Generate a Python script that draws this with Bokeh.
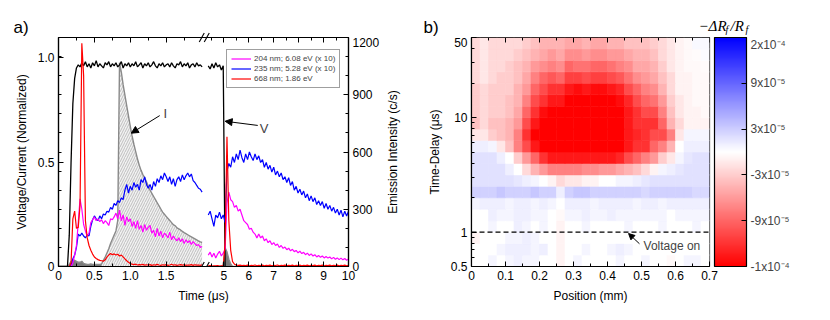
import numpy as np
from bokeh.plotting import figure
from bokeh.models import (Range1d, LinearAxis, FixedTicker, Legend, LegendItem, Label,
                          Arrow, NormalHead, LinearColorMapper, ColorBar, Span, ColumnDataSource)
from bokeh.layouts import row, column
from bokeh.embed import file_html
from bokeh.resources import INLINE
from bokeh.transform import transform
from bokeh.core.properties import value

FONT = "Liberation Sans"

# ================= Panel a) data =================
t_left = np.round(np.arange(81) * 0.025, 3)            # 0 .. 2.0 us
t_right = np.round(4.375 + np.arange(76) * 0.075, 3)   # 4.375 .. 10 us

voltage_left = [0, 0, 0, 0, 0, 0, 0.15, 0.5, 0.78, 0.9,
                0.95, 0.965, 0.955, 0.975, 0.96, 0.98, 0.955, 0.97, 0.95, 0.975,
                0.96, 0.985, 0.955, 0.97, 0.96, 0.95, 0.975, 0.965, 0.98, 0.955,
                0.97, 0.96, 0.975, 0.955, 0.965, 0.98, 0.95, 0.97, 0.96, 0.975,
                0.955, 0.97, 0.96, 0.98, 0.955, 0.965, 0.975, 0.95, 0.97, 0.96,
                0.975, 0.955, 0.965, 0.98, 0.96, 0.95, 0.97, 0.96, 0.975, 0.955,
                0.965, 0.97, 0.955, 0.975, 0.96, 0.95, 0.97, 0.965, 0.98, 0.955,
                0.97, 0.96, 0.975, 0.95, 0.965, 0.97, 0.955, 0.975, 0.96, 0.965,
                0.955]
voltage_right = [0.96, 0.945, 0.97, 0.95, 0.975, 0.955, 0.965, 0.94, 0.96, 0.0]

current_left = [0, 0, 0, 0, 0, 0, 0.01, 0.025, 0.03, 0.03,
                0.025, 0.02, 0.02, 0.025, 0.015, 0.012, 0.01, 0.01, 0.012, 0.01,
                0.01, 0.01, 0.01, 0.01, 0.012, 0.03, 0.045, 0.065, 0.085, 0.11,
                0.13, 0.15, 0.17, 0.22, 0.975, 0.93, 0.87, 0.82, 0.77, 0.72,
                0.67, 0.625, 0.585, 0.55, 0.515, 0.485, 0.46, 0.44, 0.425, 0.405,
                0.385, 0.365, 0.35, 0.335, 0.32, 0.305, 0.29, 0.275, 0.26, 0.25,
                0.24, 0.23, 0.22, 0.21, 0.2, 0.195, 0.185, 0.18, 0.175, 0.168,
                0.162, 0.157, 0.152, 0.147, 0.142, 0.137, 0.132, 0.127, 0.122, 0.118,
                0.115]
current_right = [0, 0, 0, 0, 0, 0, 0, 0, 0.005, 0.09, 0.07, 0.035, 0.012, 0, 0, 0]

red_left = [0, 0, 0, 0, 0, 0, 0, 20, 250, 290,
            200, 205, 320, 1170, 1000, 240, 150, 110, 85, 65,
            50, 42, 36, 32, 30, 28, 35, 50, 60, 68,
            62, 66, 60, 64, 55, 60, 50, 40, 30, 22,
            16, 12, 10, 12, 8, 10, 9, 11, 7, 9,
            8, 10, 6, 9, 7, 11, 8, 6, 9, 7,
            10, 6, 8, 12, 7, 9, 6, 8, 10, 7,
            9, 6, 8, 7, 10, 6, 9, 7, 8, 6,
            9]
red_right = [3, 5, 2, 4, 3, 5, 2, 4, 3, 120,
             680, 240, 85, 25, 12, 8, 6, 7, 5, 6,
             5, 7, 4, 6, 5, 8, 4, 6, 5, 7,
             4, 6, 5, 7, 4, 6, 5, 8, 4, 6,
             5, 7, 4, 6, 5, 7, 4, 6, 5, 7,
             4, 6, 5, 7, 4, 6, 5, 7, 4, 6,
             5, 7, 4, 6, 5, 7, 4, 6, 5, 7,
             4, 6, 5, 7, 4, 6]

blue_left = [0, 0, 0, 0, 0, 0, 0, 5, 40, 60,
             100, 170, 160, 175, 160, 150, 165, 160, 210, 245,
             265, 250, 240, 265, 250, 275, 270, 290, 285, 310,
             300, 330, 320, 345, 335, 360, 350, 400, 430, 385,
             420, 400, 440, 415, 430, 400, 455, 440, 470, 430,
             410, 430, 400, 445, 420, 460, 440, 475, 455, 490,
             470, 445, 470, 430, 460, 420, 455, 470, 445, 480,
             455, 475, 490, 470, 485, 450, 440, 425, 410, 405,
             390]
blue_right = [270, 290, 250, 210, 270, 255, 285, 250, 270, 230,
              500, 540, 520, 575, 545, 590, 560, 610, 570, 545,
              590, 560, 600, 575, 555, 590, 560, 580, 545, 560,
              520, 545, 510, 530, 495, 520, 480, 500, 470, 490,
              455, 470, 440, 465, 425, 445, 400, 420, 385, 405,
              375, 395, 360, 380, 345, 370, 340, 360, 325, 345,
              320, 340, 305, 330, 300, 320, 290, 310, 280, 300,
              270, 295, 260, 290, 265, 290]

magenta_left = [0, 0, 0, 0, 0, 0, 0, 0, 20, 60,
                110, 230, 355, 300, 220, 185, 160, 175, 230, 245,
                260, 240, 250, 235, 245, 225, 240, 230, 215, 250,
                245, 260, 280, 250, 295, 240, 270, 215, 260, 235,
                250, 210, 235, 200, 240, 195, 215, 180, 220, 190,
                205, 215, 175, 190, 155, 200, 160, 185, 150, 175,
                165, 150, 180, 140, 160, 145, 135, 150, 130, 145,
                120, 140, 125, 135, 115, 130, 120, 110, 115, 100,
                105]
magenta_right = [60, 75, 50, 70, 45, 65, 80, 55, 70, 90,
                 330, 390, 350, 340, 310, 320, 290, 300, 270, 240,
                 230, 220, 195, 200, 180, 170, 150, 170, 150, 160,
                 135, 145, 125, 135, 115, 125, 110, 118, 100, 110,
                 95, 102, 88, 96, 82, 90, 78, 84, 72, 80,
                 68, 74, 62, 70, 58, 66, 55, 62, 50, 58,
                 48, 55, 45, 52, 44, 50, 40, 48, 38, 45,
                 36, 44, 35, 42, 33, 40]

legend_labels = ["204 nm; 6.08 eV (x 10)", "235 nm; 5.28 eV (x 10)", "668 nm; 1.86 eV"]
x_major_t = [0, 0.5, 1.0, 1.5, 5, 6, 7, 8, 9, 10]
x_major_labels = ["0", "0.5", "1.0", "1.5", "5", "6", "7", "8", "9", "10"]
x_minor_t = [0.25, 0.75, 1.25, 1.75, 4.5, 5.5, 6.5, 7.5, 8.5, 9.5]
counts_ticks = [0, 300, 600, 900, 1200]
norm_ticks = [0, 0.5, 1.0]
norm_labels = ["0", "0.5", "1.0"]

# broken time axis
T_LEFT_END = 2.0
T_RIGHT_START = 4.3
GAP = 0.06
RIGHT_SCALE = 25 / 72.0
COUNT_TOP = 1200
NORM_TOP = 229 / 209.0   # normalized value at the 1200 c/s level

# layout (px)
HEAD_H = 37
FRAME_H = 229
BOTTOM_B = 42
P1_LEFT, P1_FRAME_W, P1_RIGHT = 58, 290, 37
SIDE_W = 29
P2_LEFT, P2_FRAME_W, P2_RIGHT = 57, 238, 105
P1_W = P1_LEFT + P1_FRAME_W + P1_RIGHT
P2_W = P2_LEFT + P2_FRAME_W + P2_RIGHT
TOTAL_W = P1_W + SIDE_W + P2_W


def disp(t):
    t = np.asarray(t, dtype=float)
    return np.where(t <= T_LEFT_END, t, T_LEFT_END + GAP + (t - T_RIGHT_START) * RIGHT_SCALE)


def joined(vl, vr):
    x = np.concatenate([disp(t_left[:len(vl)]), [np.nan], disp(t_right[:len(vr)])])
    y = np.concatenate([np.asarray(vl, float), [np.nan], np.asarray(vr, float)])
    return x, y


X_MAX = float(disp(10.0))
X_BREAK = T_LEFT_END + GAP / 2
PX_X = X_MAX / P1_FRAME_W        # data units per pixel (x)
PX_Y = NORM_TOP / FRAME_H        # data units per pixel (y)


def style_axis(ax, show_labels=True):
    ax.axis_line_width = 1.2
    ax.axis_line_color = "black"
    ax.major_tick_in = 5
    ax.major_tick_out = 0
    ax.minor_tick_in = 3
    ax.minor_tick_out = 0
    ax.major_tick_line_color = "black"
    ax.minor_tick_line_color = "black"
    ax.major_label_text_font = FONT
    ax.major_label_text_font_size = "12px"
    ax.major_label_text_color = "black"
    ax.major_label_standoff = 4 if show_labels else 0
    ax.axis_label_text_font = FONT
    ax.axis_label_text_font_size = "12px"
    ax.axis_label_text_font_style = "normal"
    ax.axis_label_text_color = "black"
    ax.axis_label_standoff = 6


def bare(width, height, xr, yr, bottom=0):
    h = figure(width=width, height=height, x_range=Range1d(*xr), y_range=Range1d(*yr),
               output_backend="svg", toolbar_location=None,
               min_border_left=0, min_border_right=0, min_border_top=0, min_border_bottom=bottom,
               x_axis_location=None, y_axis_location=None)
    h.outline_line_color = None
    h.grid.visible = False
    return h


def put_text(h, x, y, txt, size, font=FONT, style="normal", align="left", baseline="alphabetic", angle=0.0):
    h.text(x=[x], y=[y], text=[txt], text_font=value(font), text_font_size=value(size),
           text_font_style=style, text_align=align, text_baseline=baseline, text_color="black",
           angle=angle)


p1 = figure(width=P1_W, height=FRAME_H + BOTTOM_B, x_range=Range1d(0, X_MAX), y_range=Range1d(0, NORM_TOP),
            output_backend="svg", toolbar_location=None,
            min_border_left=P1_LEFT, min_border_right=P1_RIGHT, min_border_top=0, min_border_bottom=BOTTOM_B)
p1.extra_y_ranges = {"counts": Range1d(0, COUNT_TOP)}
p1.grid.visible = False
p1.outline_line_color = "black"
p1.outline_line_width = 1.2

# current (hatched area + line)
xl = disp(t_left)
p1.varea(x=xl, y1=np.zeros(len(xl)), y2=current_left, fill_color="#f2f2f2",
         hatch_pattern="/", hatch_color="#a8a8a8", hatch_scale=5, hatch_weight=0.7)
early = t_left <= 0.6
p1.varea(x=xl[early], y1=np.zeros(int(early.sum())), y2=np.asarray(current_left)[early],
         fill_color="#7a7a7a")
xr_c = disp(t_right[:len(current_right)])
p1.varea(x=xr_c, y1=np.zeros(len(xr_c)), y2=current_right, fill_color="#7a7a7a")
cx, cy = joined(current_left, current_right)
p1.line(cx, cy, line_color="#8a8a8a", line_width=1.4)

vx, vy = joined(voltage_left, voltage_right)
p1.line(vx, vy, line_color="black", line_width=1.3)

bx, by = joined(blue_left, blue_right)
r_blue = p1.line(bx, by, line_color="#0000ff", line_width=1.2, y_range_name="counts")
mx, my = joined(magenta_left, magenta_right)
r_mag = p1.line(mx, my, line_color="#ff00ff", line_width=1.2, y_range_name="counts")
rx, ry = joined(red_left, red_right)
r_red = p1.line(rx, ry, line_color="#ff0000", line_width=1.2, y_range_name="counts")

# axis-break slashes (lower half at top edge, upper half at bottom edge)
for yc in (NORM_TOP, 0.0):
    for off in (-2.5, 2.5):
        p1.segment(x0=[X_BREAK + (off - 2.5) * PX_X], y0=[yc - 4.5 * PX_Y],
                   x1=[X_BREAK + (off + 2.5) * PX_X], y1=[yc + 4.5 * PX_Y],
                   line_color="black", line_width=1.1)

# axes
xt = FixedTicker(ticks=[float(v) for v in disp(x_major_t)],
                 minor_ticks=[float(v) for v in disp(x_minor_t)])
ax_b = p1.xaxis[0]
ax_b.ticker = xt
ax_b.major_label_overrides = {float(d): lab for d, lab in zip(disp(x_major_t), x_major_labels)}
ax_b.axis_label = "Time (\u03bcs)"
style_axis(ax_b)

ax_t = LinearAxis(ticker=xt, fixed_location=NORM_TOP,
                  major_label_overrides={float(d): "" for d in disp(x_major_t)})
style_axis(ax_t, show_labels=False)
p1.add_layout(ax_t, "above")

left_minor = [c * NORM_TOP / COUNT_TOP for c in range(100, 1200, 100)]
ax_l = p1.yaxis[0]
ax_l.ticker = FixedTicker(ticks=norm_ticks, minor_ticks=left_minor)
ax_l.major_label_overrides = {float(v): lab for v, lab in zip(norm_ticks, norm_labels)}
ax_l.axis_label = "Voltage/Current (Normalized)"
style_axis(ax_l)

ax_r = LinearAxis(y_range_name="counts",
                  ticker=FixedTicker(ticks=counts_ticks, minor_ticks=list(range(100, 1200, 100))))
style_axis(ax_r)
p1.add_layout(ax_r, "right")

# legend
legend = Legend(items=[LegendItem(label=legend_labels[0], renderers=[r_mag]),
                       LegendItem(label=legend_labels[1], renderers=[r_blue]),
                       LegendItem(label=legend_labels[2], renderers=[r_red])],
                location=(168, 178), label_text_font=FONT, label_text_font_size="8px",
                glyph_width=20, glyph_height=9, label_height=9, spacing=1, padding=4,
                margin=0, label_standoff=3, border_line_color="#404040", border_line_width=1.5,
                background_fill_color="white", background_fill_alpha=1)
p1.add_layout(legend)

# annotations
p1.add_layout(Arrow(end=NormalHead(size=7, fill_color="black", line_color="black"),
                    x_start=float(disp(1.41)), y_start=0.722, x_end=float(disp(1.014)), y_end=0.638,
                    line_width=1))
p1.add_layout(Label(x=float(disp(1.486)), y=0.731, text="I", text_font=FONT, text_font_size="13px",
                    text_align="center", text_baseline="middle"))
p1.add_layout(Arrow(end=NormalHead(size=7, fill_color="black", line_color="black"),
                    x_start=float(disp(6.36)), y_start=0.675, x_end=float(disp(5.05)), y_end=0.695,
                    line_width=1))
p1.add_layout(Label(x=float(disp(6.61)), y=0.662, text="V", text_font=FONT, text_font_size="13px",
                    text_align="center", text_baseline="middle"))

# right-axis title strip
side1 = bare(SIDE_W, FRAME_H + BOTTOM_B, (0, SIDE_W), (0, FRAME_H), bottom=BOTTOM_B)
put_text(side1, 7, FRAME_H / 2, "Emission Intensity (c/s)", "12px", align="center",
         baseline="middle", angle=float(np.pi / 2))

# ================= Panel b) data =================
pos_edges = np.round(np.arange(29) * 0.025, 4)           # 0 .. 0.7 mm, 28 columns
delay_edges = 0.5 * 10 ** (np.arange(21) / 10.0)          # 0.5 .. 50 us, 20 rows
# -dR/R colour level per cell (-10 = -1e-4 end of scale, +10 = 2e-4 end), rows from 0.5 us upward
dR_levels = [
    [0, 0, 0.4, 0, 0.4, 0.7, 0.4, 0.4, 0, 0, -0.5, 0, 0.4, 0, 0, 0, 0, 0.4, 0, 0, 0.4, 0, 0, -0.3, 0, 0.4, 0.4, 0],
    [0, 0, 0, 0.4, 0.7, 0.7, 0.7, 0.4, 0.7, 0, -0.5, 0, 0, 0.4, 0, 0, 0.4, 0.7, 0.4, 0, 0, 0, 0, 0, 0, 0, 0, 0],
    [-0.5, 0, 0, 0, 0.4, 0.4, 0.7, 0.4, 0, 0, -0.5, 0, 0, 0, 0, 0, 0, 0, 0, 0, 0, 0, 0, 0, 0, 0, 0, 0],
    [0, 0, 0.4, 0, 0, 0.7, 0.4, 0, 0.4, 0, -0.5, 0, 0, 0.4, 0, 0, 0, 0, 0.4, 0, 0, 0, 0.4, 0, 0, 0, 0.4, 0],
    [0, 0, 0.7, 0.4, 0.4, 0.7, 0.7, 0.4, 0.4, 0, -0.3, 0.4, 0.4, 0.7, 0.4, 0.4, 0.7, 0.4, 0.4, 0.4, 0.4, 0.4, 0.4, 0, 0.4, 0.4, 0.4, 0.4],
    [0.4, 0.7, 0.7, 0.7, 0.4, 0.7, 0.7, 0.4, 0.7, 0.4, 0, 0.7, 0.7, 0.7, 0.4, 0.7, 0.7, 0.7, 0.7, 0.4, 0.7, 0.7, 0.4, 0.7, 0.7, 0.7, 0.7, 0.7],
    [1.8, 1.8, 1.8, 2.2, 1.8, 1.8, 1.8, 2.2, 1.8, 1.8, 0.7, 1.8, 2.2, 2.2, 1.8, 1.8, 1.8, 1.8, 1.8, 1.8, 1.5, 1.8, 1.8, 1.8, 1.8, 1.8, 1.5, 1.5],
    [1.2, 1.2, 1.2, 1.2, 1.2, 1.0, 0.7, 0.4, 0, -0.5, -1.5, -1, -1, -0.5, -0.5, 0, 0, 0.4, 0.4, 0.7, 1.0, 1.2, 1.2, 1.2, 1.2, 1.2, 1.2, 1.2],
    [1.2, 1.2, 1.2, 1.2, 0.7, 0, -1.5, -3, -4, -5, -5, -5, -5, -4.5, -4.5, -4, -4, -3.5, -3, -2.5, -1.5, -0.5, 0.4, 0.7, 1.0, 1.2, 1.2, 1.2],
    [1.2, 1.2, 1.2, 0.7, 0, -2, -4, -6, -8, -9, -9, -9, -9, -9, -9, -9, -9, -8.5, -7, -6, -5, -4, -2, -1, 0.4, 1.0, 1.2, 1.2],
    [0.7, 0.7, 0.4, -1, -2.5, -5, -7, -9, -10, -10, -10, -10, -10, -10, -10, -10, -10, -10, -9, -8, -8, -6, -5, -3, 0, 0.7, 0.7, 0.7],
    [-1, -1, -2, -2.5, -3, -5, -8, -10, -10, -10, -10, -10, -10, -10, -10, -10, -10, -10, -9, -8.5, -8, -7, -7, -5, -1, 0.4, 0.4, 0.4],
    [-2.5, -1.5, -2.5, -2.5, -3, -4, -7, -9, -10, -10, -10, -10, -10, -10, -10, -10, -10, -10, -9, -8, -8, -8, -6, -3, -1.5, -0.5, -0.5, -0.5],
    [-2, -1.5, -2, -2, -2.5, -3.5, -6, -8, -9.5, -10, -10, -10, -10, -10, -10, -10, -10, -10, -9, -8, -7, -7, -5, -2.5, -1, -0.5, -0.5, -0.3],
    [-2, -1.5, -2, -2, -2.5, -3, -5, -7, -8, -9, -9, -10, -10, -10, -10, -10, -10, -9.5, -8.5, -7, -6, -5.5, -4, -2, -1, -0.5, -0.3, -0.3],
    [-2, -1.5, -2, -2, -2, -3, -4, -6, -7, -8, -8, -9, -9.5, -9, -9.5, -9.5, -9, -8.5, -7, -6, -5, -4.5, -3, -1.5, -0.5, -0.5, -0.3, -0.3],
    [-1.5, -1, -1.5, -2, -2, -2.5, -3.5, -5, -6, -6.5, -6, -7.5, -7.5, -7, -7.5, -7.5, -7, -6.5, -5.5, -4.5, -4, -3.5, -2.5, -1.5, -0.5, -0.5, -0.3, -0.3],
    [-1.5, -1, -1.5, -1.5, -2, -2.5, -3, -4, -4.5, -5, -4.5, -6, -5.5, -5.5, -6, -6, -5.5, -5, -4.5, -3.5, -3.5, -3, -2, -1, -0.5, -0.3, -0.3, -0.2],
    [-1.5, -1, -1.5, -1.5, -1.5, -2, -2.5, -3, -3.5, -4, -3.5, -4.5, -4.5, -4, -4.5, -4.5, -4, -4, -3.5, -3, -3, -2.5, -1.5, -1, -0.5, -0.3, -0.2, 0.2],
    [-1.5, -1, -1.5, -1.5, -1.5, -1.5, -2, -2.5, -3, -3, -3, -3.5, -3.5, -3, -3.5, -3.5, -3, -3, -2.5, -2.5, -2.5, -2, -1.5, -1, -0.5, -0.3, 0.3, 0.3],
]
cbar_ticks = [-10, -6, -2, 2, 6, 10]
cbar_labels = ["-1x10\u207b\u2074", "-9x10\u207b\u2075", "-3x10\u207b\u2075",
               "3x10\u207b\u2075", "9x10\u207b\u2075", "2x10\u207b\u2074"]
pos_ticks = [0, 0.1, 0.2, 0.3, 0.4, 0.5, 0.6, 0.7]
pos_minor = [0.05, 0.15, 0.25, 0.35, 0.45, 0.55, 0.65]
delay_ticks = [0.5, 1, 10, 50]
delay_labels = ["0.5", "1", "10", "50"]
delay_minor = [0.6, 0.7, 0.8, 0.9, 2, 3, 4, 5, 6, 7, 8, 9, 20, 30, 40]
VOLTAGE_ON = 1.0

# palette red -> white -> blue (style only)
half = 128
pal = []
for i in range(half):
    f = i / (half - 1)
    g = int(round(255 * f))
    pal.append("#%02x%02x%02x" % (255, g, g))
for i in range(half):
    f = i / (half - 1)
    g = int(round(255 * (1 - f)))
    pal.append("#%02x%02x%02x" % (g, g, 255))
mapper = LinearColorMapper(palette=pal, low=-10, high=10)

L, R, B, T, V = [], [], [], [], []
for r_i, rowvals in enumerate(dR_levels):
    for c_i, v in enumerate(rowvals):
        L.append(pos_edges[c_i]); R.append(pos_edges[c_i + 1])
        B.append(delay_edges[r_i]); T.append(delay_edges[r_i + 1])
        V.append(v)
hsrc = ColumnDataSource(dict(left=L, right=R, bottom=B, top=T, level=V))

p2 = figure(width=P2_W, height=FRAME_H + BOTTOM_B, x_range=Range1d(0, 0.7), y_range=Range1d(0.5, 50),
            y_axis_type="log", output_backend="svg", toolbar_location=None,
            min_border_left=P2_LEFT, min_border_right=P2_RIGHT, min_border_top=0, min_border_bottom=BOTTOM_B)
p2.grid.visible = False
p2.outline_line_color = "black"
p2.outline_line_width = 1.2
p2.quad(left="left", right="right", bottom="bottom", top="top", source=hsrc,
        fill_color=transform("level", mapper), line_color=transform("level", mapper), line_width=0.6)

p2.add_layout(Span(location=VOLTAGE_ON, dimension="width", line_dash="5 3",
                   line_color="black", line_width=1.3))
p2.add_layout(Arrow(end=NormalHead(size=6, fill_color="black", line_color="black"),
                    x_start=0.494, y_start=0.79, x_end=0.462, y_end=0.97, line_width=1))
p2.add_layout(Label(x=0.506, y=0.75, text="Voltage on", text_font=FONT, text_font_size="12px",
                    text_baseline="middle"))

px = p2.xaxis[0]
px.ticker = FixedTicker(ticks=pos_ticks, minor_ticks=pos_minor)
px.axis_label = "Position (mm)"
style_axis(px)
px_top = LinearAxis(ticker=FixedTicker(ticks=pos_ticks, minor_ticks=pos_minor), fixed_location=50,
                    major_label_overrides={float(v): "" for v in pos_ticks})
style_axis(px_top, show_labels=False)
p2.add_layout(px_top, "above")

py = p2.yaxis[0]
py.ticker = FixedTicker(ticks=delay_ticks, minor_ticks=delay_minor)
py.major_label_overrides = {float(v): lab for v, lab in zip(delay_ticks, delay_labels)}
py.axis_label = "Time-Delay (\u03bcs)"
style_axis(py)

cb = ColorBar(color_mapper=mapper, width=32, height=FRAME_H, location=(5, 0), padding=0, margin=0,
              ticker=FixedTicker(ticks=cbar_ticks),
              major_label_overrides={float(v): lab for v, lab in zip(cbar_ticks, cbar_labels)},
              major_tick_in=5, major_tick_out=0, major_tick_line_color="black",
              bar_line_color="black", bar_line_width=1.2, label_standoff=4,
              major_label_text_font=FONT, major_label_text_font_size="12px",
              background_fill_color=None, border_line_color=None)
p2.add_layout(cb, "right")

# ================= header strip (panel letters, colour-bar title, break marks) =================
head = bare(TOTAL_W, HEAD_H, (0, TOTAL_W), (0, HEAD_H))
put_text(head, 13, 10, "a)", "17px")
put_text(head, P1_W + SIDE_W + 9, 10, "b)", "17px")
cbx = P1_W + SIDE_W + P2_LEFT + P2_FRAME_W - 11       # colour-bar title start
put_text(head, cbx, 12, "\u2212\u0394R", "15px", font="Liberation Serif", style="italic")
put_text(head, cbx + 27, 8, "f", "10px", font="Liberation Serif", style="italic")
put_text(head, cbx + 32, 12, "/R", "15px", font="Liberation Serif", style="italic")
put_text(head, cbx + 47, 8, "f", "10px", font="Liberation Serif", style="italic")
xb_px = P1_LEFT + X_BREAK / X_MAX * P1_FRAME_W
for off in (-2.5, 2.5):
    head.segment(x0=[xb_px + off - 2.5], y0=[-4.5], x1=[xb_px + off + 2.5], y1=[4.5],
                 line_color="black", line_width=1.1)

layout = column(head, row(p1, side1, p2))
open("out.html", "w").write(file_html(layout, INLINE))
